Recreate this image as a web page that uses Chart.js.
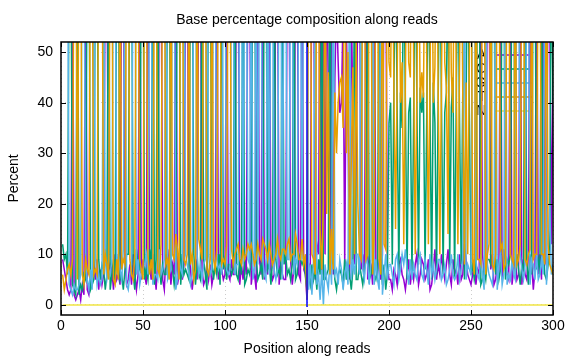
<!DOCTYPE html>
<html>
<head>
<meta charset="utf-8">
<script src="https://cdn.jsdelivr.net/npm/chart.js@4/dist/chart.umd.min.js"></script>
<style>
  html, body { margin: 0; padding: 0; background: #fff; }
</style>
</head>
<body>
<canvas id="chart" width="576" height="360"></canvas>
<script>
// percent of each base at read positions 1..300
const baseA = [
  9,7,5,3,2,3,70,2,1,2, 3,1,4,2,74,3,2,5,6,8, 5,9,3,7,4,6,72,74,6,8,
  7,3,10,5,6,4,75,72,9,4, 5,8,4,10,6,3,6,76,5,9, 6,4,77,8,5,10,7,3,9,73,
  74,5,3,10,7,11,4,8,6,72, 4,6,9,5,8,72,76,10,7,3, 6,9,5,73,75,7,4,5,8,5,
  8,4,6,7,74,5,10,7,5,6, 74,6,5,9,6,6,76,75,4,8, 5,9,6,72,75,4,7,6,3,75,
  9,6,73,5,8,6,74,7,5,6, 76,74,4,8,6,5,5,73,71,9, 4,7,72,74,6,5,70,7,6,1,
  8,6,76,74,5,12,10,75,6,73, 10,70,42,8,72,6,45,60,48,38, 40,58,8,55,36,5,62,35,8,30,
  62,74,7,10,6,70,5,9,8,4, 74,8,6,9,5,10,72,74,8,5, 5,3,7,6,4,8,9,6,5,3,
  6,9,4,7,5,8,10,4,6,9, 8,5,6,9,3,4,7,11,5,8, 6,10,7,5,8,11,6,4,9,6,
  7,4,10,5,6,12,9,6,5,4, 6,9,4,7,6,72,10,6,8,72, 73,7,10,4,5,8,6,72,5,11,
  8,6,5,75,4,7,9,5,6,74, 4,9,6,5,10,75,8,3,7,73, 6,10,5,74,8,9,70,60,12,46
];
const baseC = [
  12,9,10,6,75,80,4,3,2,78, 2,4,3,6,5,78,82,3,4,5, 76,80,9,5,8,7,3,6,79,3,
  6,9,5,78,76,5,6,3,7,10, 10,78,79,6,3,11,8,7,80,77, 5,7,5,11,7,80,4,9,77,8,
  4,8,6,6,78,77,9,7,4,7, 78,79,4,10,6,7,6,5,79,80, 10,4,8,6,5,78,9,6,3,80,
  77,9,5,8,6,10,4,78,7,9, 5,8,8,6,7,78,6,5,9,6, 76,4,5,7,6,9,78,80,10,5,
  6,8,5,77,76,7,8,4,9,78, 9,6,7,5,78,8,10,6,7,5, 8,77,5,6,10,9,8,9,6,3,
  6,4,8,5,7,3,9,6,78,5, 5,6,7,78,8,9,5,3,6,7, 6,4,9,5,8,6,3,7,75,5,
  5,8,6,4,7,9,76,5,6,8, 6,5,7,77,9,4,8,3,6,36, 40,8,44,70,38,6,42,35,72,40,
  5,38,41,6,36,75,40,8,43,38, 42,7,37,73,39,5,44,36,6,41, 74,40,6,38,42,70,8,39,45,5,
  40,72,37,8,43,5,40,76,38,6, 8,5,7,78,80,4,5,7,5,9, 9,8,78,80,6,9,5,7,79,76,
  5,9,8,10,78,79,6,10,7,4, 8,7,77,9,4,10,6,80,78,7, 9,6,76,10,6,5,8,12,75,40
];
const baseG = [
  70,76,78,82,4,3,2,4,3,3, 4,6,82,80,8,5,3,7,3,77, 10,4,6,4,5,80,9,5,7,6,
  9,79,76,6,10,7,5,11,78,4, 3,6,8,77,80,6,9,4,6,7, 8,10,6,74,79,4,6,6,5,11,
  6,7,9,76,5,6,7,78,80,3, 5,9,7,6,77,10,8,6,4,6, 79,80,10,6,8,5,8,9,80,10,
  6,7,80,78,9,7,8,6,79,77, 7,6,7,75,79,6,8,8,79,78, 8,78,80,9,8,76,5,7,78,8,
  75,77,9,6,5,78,6,80,78,7, 5,7,79,78,5,76,75,9,9,77, 78,6,9,8,75,77,9,76,78,90,
  3,8,2,9,80,4,6,1,7,0, 8,5,3,9,4,78,6,7,4,9, 7,3,6,8,4,80,5,9,6,10,
  10,6,78,7,5,10,8,4,9,80, 4,9,5,3,80,2,6,10,5,8, 8,6,4,9,10,5,7,10,8,11,
  7,4,9,5,8,6,5,9,10,6, 5,9,7,4,10,6,8,5,7,9, 9,5,6,8,4,5,7,10,6,5,
  6,10,5,7,9,76,5,8,7,6, 77,80,9,6,5,10,6,3,79,8, 6,5,4,9,79,3,8,10,4,6,
  79,4,6,5,9,6,5,77,78,10, 7,5,8,78,76,4,9,8,5,10, 5,6,9,6,78,4,10,20,6,8
];
const baseT = [
  6,3,5,7,8,6,9,84,86,5, 82,80,6,4,9,7,6,81,79,6, 7,6,79,81,78,6,10,8,5,80,
  78,5,4,9,5,80,7,9,8,79, 80,9,6,5,10,79,76,9,7,5, 79,78,10,6,9,5,82,81,7,6,
  12,79,80,8,9,5,79,10,9,14, 11,5,80,78,9,8,10,77,8,10, 5,7,76,13,11,9,78,80,7,6,
  9,80,9,7,11,78,79,8,9,8, 12,78,76,11,8,10,11,12,9,8, 11,9,10,12,11,12,10,8,9,12,
  10,9,13,12,11,9,12,10,8,9, 10,13,10,9,11,11,10,12,13,9, 10,10,14,12,9,9,13,8,10,1,
  80,82,10,9,6,79,75,15,7,20, 76,18,46,6,15,7,42,30,40,44, 45,35,82,30,50,8,28,47,10,52,
  20,10,9,78,80,9,10,80,76,6, 14,78,80,9,6,82,12,11,79,48, 45,80,42,15,46,78,40,48,12,44,
  80,48,45,82,50,10,43,78,40,46, 41,79,49,12,44,83,40,47,81,42, 10,44,80,48,43,14,78,46,38,82,
  45,12,47,80,41,8,44,10,49,84, 9,6,80,9,9,8,79,82,6,10, 12,80,8,7,10,80,81,11,12,7,
  8,81,80,10,9,8,80,8,9,12, 80,79,9,8,10,11,77,9,10,10, 79,78,10,10,8,80,12,8,7,6
];
const baseN = [
  0,0,0,0,0,0,0,0,0,0, 0,0,0,0,0,0,0,0,0,0, 0,0,0,0,0,0,0,0,0,0,
  0,0,0,0,0,0,0,0,0,0, 0,0,0,0,0,0,0,0,0,0, 0,0,0,0,0,0,0,0,0,0,
  0,0,0,0,0,0,0,0,0,0, 0,0,0,0,0,0,0,0,0,0, 0,0,0,0,0,0,0,0,0,0,
  0,0,0,0,0,0,0,0,0,0, 0,0,0,0,0,0,0,0,0,0, 0,0,0,0,0,0,0,0,0,0,
  0,0,0,0,0,0,0,0,0,0, 0,0,0,0,0,0,0,0,0,0, 0,0,0,0,0,0,0,0,0,0,
  0,0,0,0,0,0,0,0,0,0, 0,0,0,0,0,0,0,0,0,0, 0,0,0,0,0,0,0,0,0,0,
  0,0,0,0,0,0,0,0,0,0, 0,0,0,0,0,0,0,0,0,0, 0,0,0,0,0,0,0,0,0,0,
  0,0,0,0,0,0,0,0,0,0, 0,0,0,0,0,0,0,0,0,0, 0,0,0,0,0,0,0,0,0,0,
  0,0,0,0,0,0,0,0,0,0, 0,0,0,0,0,0,0,0,0,0, 0,0,0,0,0,0,0,0,0,0,
  0,0,0,0,0,0,0,0,0,0, 0,0,0,0,0,0,0,0,0,0, 0,0,0,0,0,0,0,0,0,0
];
const baseNames = ['A', 'C', 'G', 'T', 'N'];
const baseColors = ['#9400d3', '#009e73', '#56b4e9', '#e69f00', '#f0e442'];
const readBoundary = [150];
const xTicks = [0, 50, 100, 150, 200, 250, 300];
const yTicks = [0, 10, 20, 30, 40, 50];

const positions = [];
for (let i = 1; i <= baseA.length; i++) positions.push(i);

const FONT = 'Liberation Sans, Arial, sans-serif';
const TITLE = 'Base percentage composition along reads';

const series = [baseA, baseC, baseG, baseT, baseN];
const datasets = series.map((vals, k) => ({
  label: baseNames[k],
  data: vals.map((v, i) => ({ x: positions[i], y: v })),
  borderColor: baseColors[k],
  borderWidth: 1.5,
  pointRadius: 0,
  tension: 0,
  order: 5 - k
}));
datasets.push({
  label: 'boundary',
  data: [{ x: readBoundary[0], y: -0.4 }, { x: readBoundary[0], y: 52 }],
  borderColor: '#0000ff',
  borderWidth: 1.5,
  pointRadius: 0,
  order: 0
});

// gnuplot-like title, frame, inward ticks and the key
const gnuFrame = {
  id: 'gnuFrame',
  beforeDatasetsDraw(chart) {
    const ctx = chart.ctx;
    ctx.save();
    ctx.font = '14px ' + FONT;
    ctx.fillStyle = '#000';
    ctx.textAlign = 'right';
    ctx.textBaseline = 'middle';
    baseNames.forEach((name, k) => {
      const y = 55 + k * 14;
      ctx.fillText(name, 486, y);
      ctx.strokeStyle = baseColors[k];
      ctx.lineWidth = 1.5;
      ctx.beginPath();
      ctx.moveTo(494, y);
      ctx.lineTo(533, y);
      ctx.stroke();
    });
    ctx.restore();
  },
  afterDraw(chart) {
    const { ctx, chartArea: a, scales } = chart;
    ctx.save();
    ctx.font = '14px ' + FONT;
    ctx.fillStyle = '#000';
    ctx.textAlign = 'center';
    ctx.textBaseline = 'middle';
    ctx.fillText(TITLE, (a.left + a.right) / 2, 20);

    ctx.strokeStyle = '#000';
    ctx.lineWidth = 1;
    ctx.beginPath();
    xTicks.forEach(v => {
      const x = Math.round(scales.x.getPixelForValue(v)) + 0.5;
      ctx.moveTo(x, a.bottom); ctx.lineTo(x, a.bottom - 5);
      ctx.moveTo(x, a.top); ctx.lineTo(x, a.top + 5);
    });
    yTicks.forEach(v => {
      const y = Math.round(scales.y.getPixelForValue(v)) + 0.5;
      ctx.moveTo(a.left, y); ctx.lineTo(a.left + 5, y);
      ctx.moveTo(a.right, y); ctx.lineTo(a.right - 5, y);
    });
    ctx.stroke();
    ctx.lineWidth = 1.5;
    ctx.strokeRect(a.left, a.top, a.right - a.left, a.bottom - a.top);
    ctx.restore();
  }
};

new Chart(document.getElementById('chart'), {
  type: 'line',
  data: { datasets },
  options: {
    responsive: false,
    animation: false,
    layout: { padding: { left: 0, right: 23, top: 42, bottom: 0 } },
    plugins: {
      legend: { display: false },
      tooltip: { enabled: false },
      title: { display: false }
    },
    scales: {
      x: {
        type: 'linear',
        min: 0,
        max: 300,
        afterBuildTicks(s) { s.ticks = xTicks.map(v => ({ value: v })); },
        afterFit(s) { s.height = 45; },
        ticks: { color: '#000', font: { family: FONT, size: 14 }, padding: 3, maxRotation: 0 },
        grid: { color: 'rgba(150,150,150,0.7)', lineWidth: 0.7, drawTicks: false },
        border: { display: false, dash: [1, 3] },
        title: {
          display: true,
          text: 'Position along reads',
          color: '#000',
          font: { family: FONT, size: 14 },
          padding: { top: 0, bottom: 2 }
        }
      },
      y: {
        min: -2,
        max: 52,
        afterBuildTicks(s) { s.ticks = yTicks.map(v => ({ value: v })); },
        afterFit(s) { s.width = 61; },
        ticks: { color: '#000', font: { family: FONT, size: 14 }, padding: 8 },
        grid: { color: 'rgba(150,150,150,0.7)', lineWidth: 0.7, drawTicks: false },
        border: { display: false, dash: [1, 3] },
        title: {
          display: true,
          text: 'Percent',
          color: '#000',
          font: { family: FONT, size: 14 },
          padding: { top: 6, bottom: 0 }
        }
      }
    }
  },
  plugins: [gnuFrame]
});
</script>
</body>
</html>
